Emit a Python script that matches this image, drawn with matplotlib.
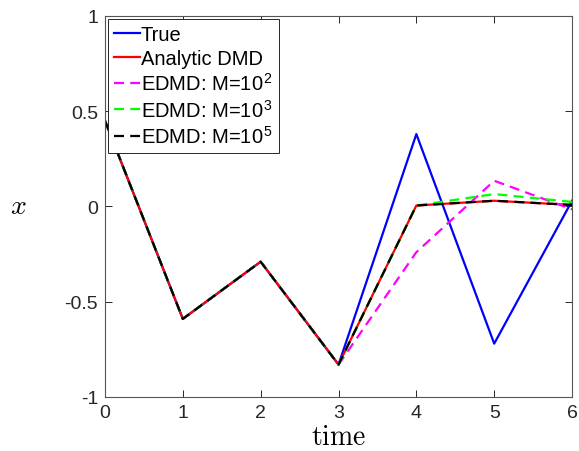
import matplotlib
matplotlib.use("Agg")
import matplotlib.pyplot as plt

# data
t = [0, 1, 2, 3, 4, 5, 6]
x_true = [0.45, -0.59, -0.29, -0.83, 0.38, -0.72, 0.03]
x_dmd = [0.45, -0.59, -0.29, -0.83, 0.005, 0.03, 0.008]
x_m2 = [0.45, -0.59, -0.29, -0.83, -0.24, 0.135, -0.015]
x_m3 = [0.45, -0.59, -0.29, -0.83, 0.005, 0.065, 0.024]
x_m5 = [0.45, -0.59, -0.29, -0.83, 0.005, 0.03, 0.008]

xticks = [0, 1, 2, 3, 4, 5, 6]
yticks = [-1, -0.5, 0, 0.5, 1]
ytick_labels = ["-1", "-0.5", "0", "0.5", "1"]

plt.rcParams["font.family"] = ["Liberation Sans", "DejaVu Sans"]
plt.rcParams["mathtext.fontset"] = "cm"

fig = plt.figure(figsize=(5.79, 4.52), dpi=100)
ax = fig.add_axes([0.1813, 0.1195, 0.8067, 0.843])

dash = (0, (4.5, 2.8))
ax.plot(t, x_true, color="#0000ff", lw=1.6, label="True")
ax.plot(t, x_dmd, color="#ff0000", lw=1.6, label="Analytic DMD")
ax.plot(t, x_m2, color="#ff00ff", lw=1.6, ls=dash, label="EDMD: M=10$^{\\mathregular{2}}$")
ax.plot(t, x_m3, color="#00ff00", lw=1.6, ls=dash, label="EDMD: M=10$^{\\mathregular{3}}$")
ax.plot(t, x_m5, color="#000000", lw=1.6, ls=dash, label="EDMD: M=10$^{\\mathregular{5}}$")

ax.set_xlim(0, 6)
ax.set_ylim(-1, 1)
ax.set_xticks(xticks)
ax.set_yticks(yticks)
ax.set_yticklabels(ytick_labels)
ax.tick_params(direction="in", top=True, right=True, labelsize=14,
               length=5, width=0.7, colors="#262626", pad=5)
for s in ax.spines.values():
    s.set_color("#555555")
    s.set_linewidth(0.8)

ax.set_xlabel(r"$\mathrm{time}$", fontsize=20, labelpad=2)
ax.set_ylabel(r"$x$", fontsize=20, rotation=0, labelpad=33, va="center")

leg = ax.legend(loc="upper left", fontsize=14.5, frameon=True, fancybox=False,
                edgecolor="#262626", borderpad=0.32, labelspacing=0.22,
                handlelength=1.25, handletextpad=0.05, borderaxespad=0.15,
                framealpha=1)
leg.get_frame().set_linewidth(0.7)

fig.savefig("out.png", dpi=100)
